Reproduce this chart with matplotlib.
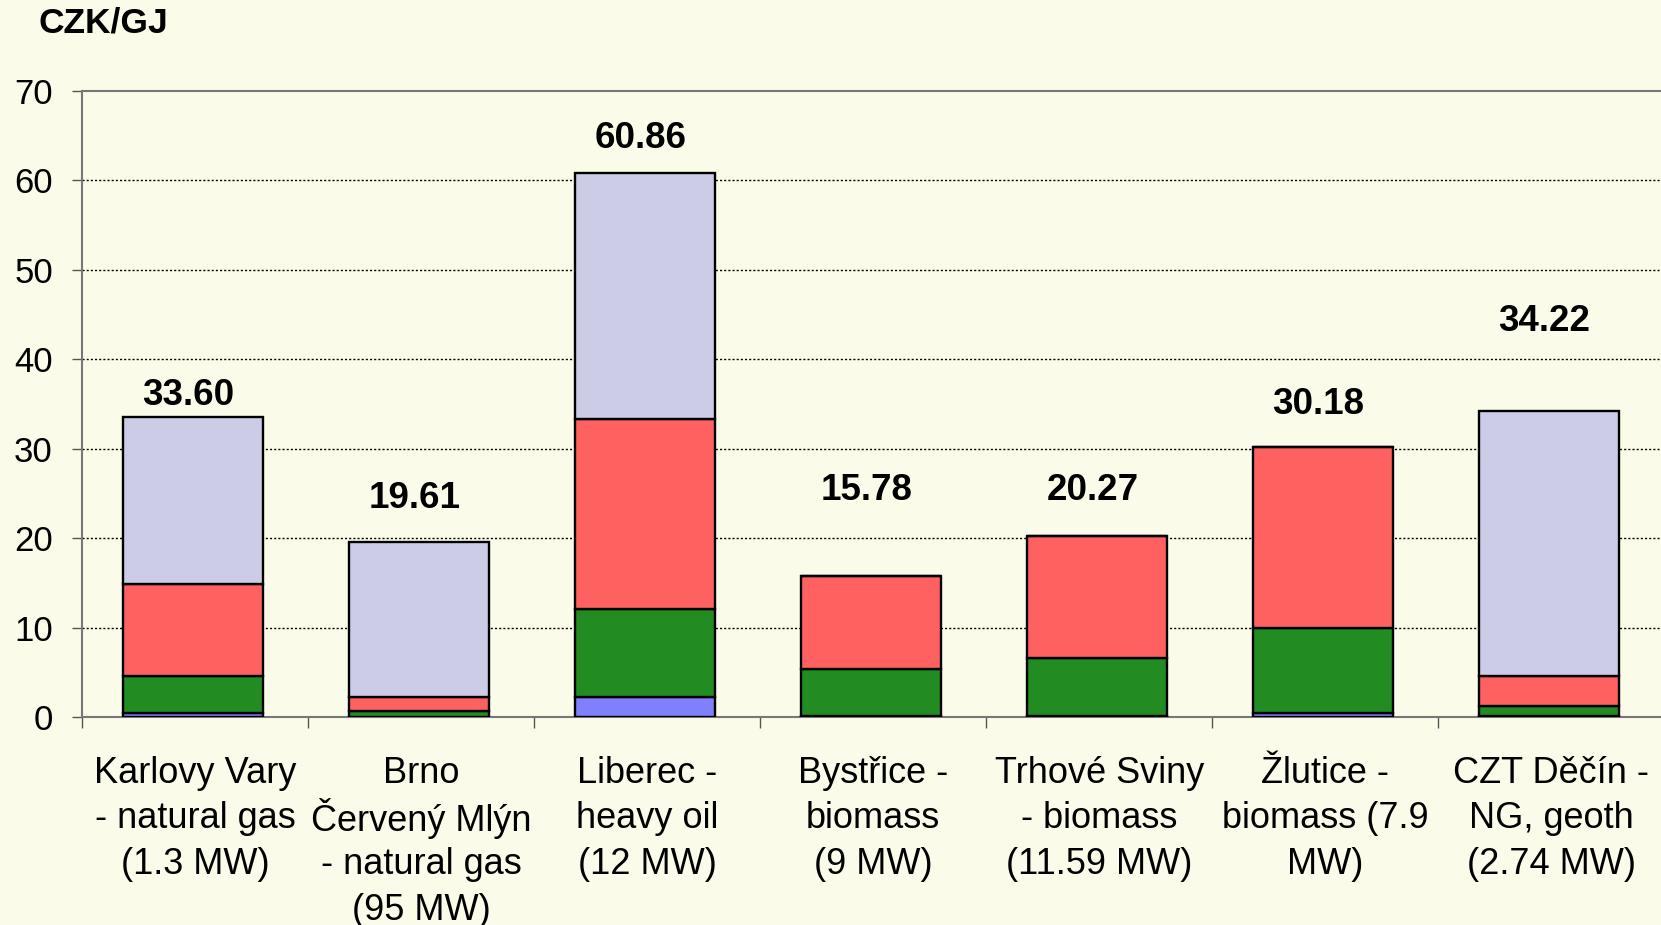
import matplotlib
matplotlib.use("Agg")
import matplotlib.pyplot as plt
import numpy as np

plt.rcParams['font.family'] = ['Liberation Sans', 'DejaVu Sans']

categories = [
    "Karlovy Vary\n- natural gas\n(1.3 MW)",
    "Brno\nČervený Mlýn\n- natural gas\n(95 MW)",
    "Liberec -\nheavy oil\n(12 MW)",
    "Bystřice -\nbiomass\n(9 MW)",
    "Trhové Sviny\n- biomass\n(11.59 MW)",
    "Žlutice -\nbiomass (7.9\nMW)",
    "CZT Děčín -\nNG, geoth\n(2.74 MW)",
]
seg_blue = [0.4, 0.0, 2.25, 0.12, 0.15, 0.45, 0.12]
seg_green = [4.15, 0.7, 9.8, 5.2, 6.5, 9.55, 1.1]
seg_red = [10.35, 1.55, 21.3, 10.46, 13.62, 20.18, 3.4]
totals = [33.60, 19.61, 60.86, 15.78, 20.27, 30.18, 34.22]
seg_lav = [max(t - b - g - r, 0) for t, b, g, r in zip(totals, seg_blue, seg_green, seg_red)]
label_y = [36.0, 24.4, 64.7, 25.3, 25.3, 35.0, 44.2]
yticks = [0, 10, 20, 30, 40, 50, 60, 70]

bg = "#FAFCE9"
fig = plt.figure(figsize=(16.61, 9.25), dpi=100, facecolor=bg)
ax = fig.add_axes([82 / 1661, (925 - 717) / 925, 1 - 82 / 1661 + 0.002, (717 - 91) / 925])
ax.set_facecolor(bg)

x = np.arange(len(categories))
w = 0.62
bottom = np.zeros(len(categories))
for vals, col in [(seg_blue, "#8080FF"), (seg_green, "#228B22"), (seg_red, "#FF6060"), (seg_lav, "#CCCCE6")]:
    ax.bar(x - 0.01, vals, w, bottom=bottom, color=col, edgecolor="black", linewidth=1.7, zorder=3)
    bottom += np.array(vals)

for xi, t, ly in zip(x, totals, label_y):
    ax.text(xi - 0.03, ly, f"{t:.2f}", ha="center", va="center", fontsize=26.5, fontweight="bold", zorder=4)

ax.set_xlim(-0.5, len(categories) - 0.5)
ax.set_ylim(0, 70)
ax.set_yticks(yticks)
ax.set_yticklabels([str(v) for v in yticks], fontsize=25)
ax.tick_params(axis="y", direction="out", length=7, width=1, color="#555555", pad=14)

# category labels, each line placed at an even spacing below the axis
ax.set_xticks(x)
ax.set_xticklabels([""] * len(categories))
ax.set_xticks(np.arange(-0.5, len(categories) + 0.5, 1), minor=True)
ax.tick_params(axis="x", which="major", length=0)
ax.tick_params(axis="x", which="minor", direction="out", length=8, width=1, color="#555555")
xform = ax.get_xaxis_transform()
for xi, lab in zip(x, categories):
    for k, line in enumerate(lab.split("\n")):
        ax.annotate(line, xy=(xi, 0), xycoords=xform, xytext=(0, -40.5 - 32.9 * k),
                    textcoords="offset points", ha="center", va="center", fontsize=26,
                    annotation_clip=False)

for yv in yticks[1:-1]:
    ax.axhline(yv, color="black", linestyle=(0, (1.5, 1.5)), linewidth=1, zorder=1)

for s in ["left", "bottom", "top"]:
    ax.spines[s].set_color("#777777")
    ax.spines[s].set_linewidth(1.5)
ax.spines["right"].set_visible(False)

fig.text(38 / 1661, 1 - 23 / 925, "CZK/GJ", fontsize=25.5, fontweight="bold", ha="left", va="center")

fig.savefig("out.png", dpi=100, facecolor=bg)
